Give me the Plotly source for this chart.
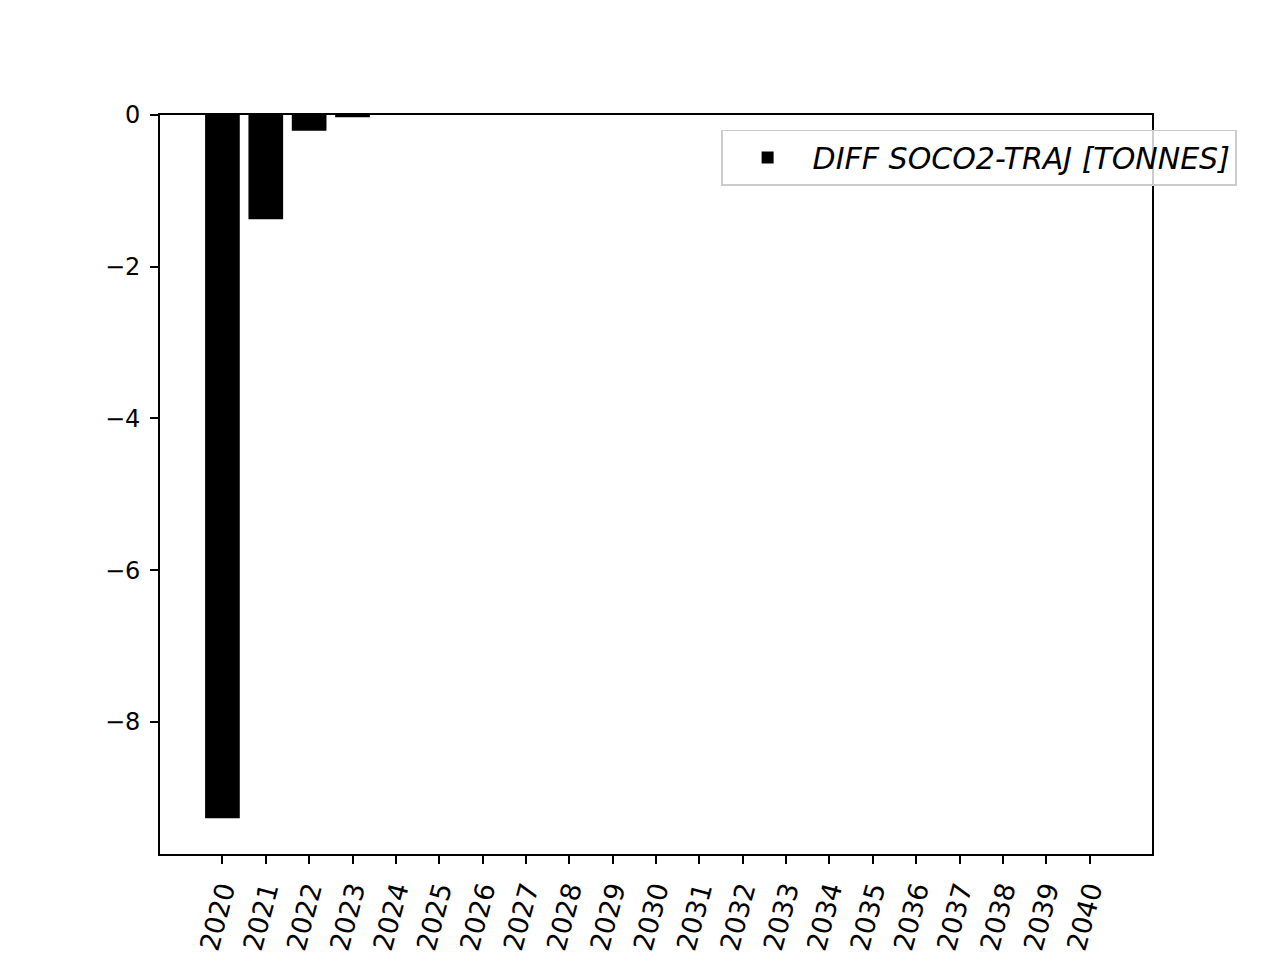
import plotly.graph_objects as go

years = [str(y) for y in range(2020, 2041)]
diff_values = [-9.27, -1.375, -0.207, -0.03] + [0.0] * 17
series_name = "DIFF SOCO2-TRAJ [TONNES]"
y_ticks = [0, -2, -4, -6, -8]
y_tick_text = ["0", "\u22122", "\u22124", "\u22126", "\u22128"]

fig = go.Figure()
fig.add_trace(go.Bar(
    x=years, y=diff_values, name=series_name,
    marker=dict(color="black", line=dict(width=0)),
    width=0.8, showlegend=True,
))

axis_common = dict(
    showline=True, linecolor="black", linewidth=1.6, mirror=True,
    ticks="outside", ticklen=8, tickwidth=1.6, tickcolor="black",
    showgrid=False, zeroline=False,
)

fig.update_layout(
    width=1280, height=960,
    margin=dict(l=152, r=136, t=107, b=114),
    paper_bgcolor="white", plot_bgcolor="white",
    xaxis=dict(type="category", range=[-1.44, 21.44], tickangle=-75,
               tickfont=dict(family="DejaVu Sans", size=27, color="black"), **axis_common),
    yaxis=dict(range=[-9.74, 0], tickvals=y_ticks, ticktext=y_tick_text, ticklabelstandoff=5,
               tickfont=dict(family="DejaVu Sans", size=24, color="black"), **axis_common),
    legend=dict(
        x=1.0857, y=0.98, xanchor="right", yanchor="top",
        bgcolor="rgba(255,255,255,0.8)", bordercolor="#cccccc", borderwidth=1.6,
        font=dict(family="DejaVu Sans", size=30, color="black", style="italic"),
        itemsizing="constant", itemwidth=80,
    ),
    bargap=0.2,
)

fig.write_html("out.html")
